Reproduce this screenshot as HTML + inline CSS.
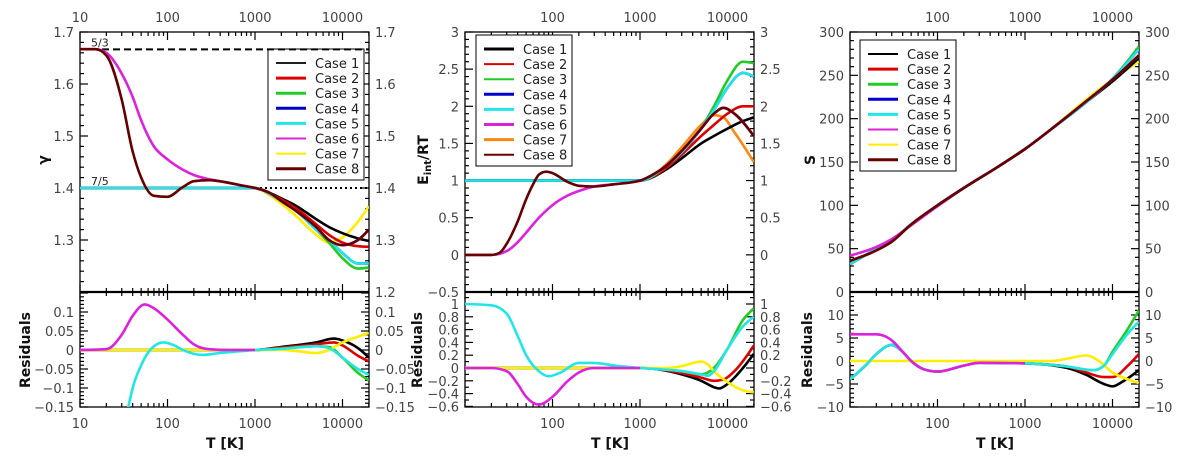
<!DOCTYPE html>
<html><head><meta charset="utf-8">
<style>
html,body{margin:0;padding:0;background:#fff;}
svg{display:block;font-family:"DejaVu Sans","Liberation Sans",sans-serif;}
.tl{font-size:13px;fill:#444;}
.at{font-size:14px;font-weight:bold;fill:#111;}
.lg{font-size:13px;fill:#222;}
</style></head>
<body>
<svg id="fig" width="1200" height="470" viewBox="0 0 1200 470"></svg>
<script>
// ---------- data: [T, value] pairs ----------
const caseNames = ["Case 1","Case 2","Case 3","Case 4","Case 5","Case 6","Case 7","Case 8"];
const colors1 = ["#000000","#dd0000","#22cc22","#0000cc","#22e6e6","#dd22dd","#ffee00","#660000"];
const colors2 = ["#000000","#dd0000","#22cc22","#0000cc","#22e6e6","#dd22dd","#ff8811","#660000"];
const xTickLabels = [10,100,1000,10000];
// Panel 1: gamma
const g_c1 = [[10,1.4],[1000,1.4],[1500,1.39],[2000,1.38],[3000,1.365],[5000,1.34],[7000,1.325],[10000,1.313],[15000,1.303],[20000,1.298]];
const g_c2 = [[10,1.4],[1000,1.4],[1500,1.389],[2000,1.378],[3000,1.36],[5000,1.33],[7000,1.31],[10000,1.295],[15000,1.288],[20000,1.287]];
const g_c3 = [[10,1.4],[1000,1.4],[1500,1.388],[2000,1.375],[3000,1.355],[5000,1.32],[7000,1.295],[10000,1.265],[15000,1.245],[20000,1.247]];
const g_c4 = [[10,1.4],[1000,1.4],[1500,1.388],[2000,1.375],[3000,1.355],[5000,1.32],[7000,1.3],[10000,1.275],[15000,1.255],[20000,1.255]];
const g_c5 = [[10,1.4],[1000,1.4],[1500,1.388],[2000,1.375],[3000,1.355],[5000,1.32],[7000,1.3],[10000,1.275],[15000,1.255],[20000,1.255]];
const g_c6 = [[10,1.667],[15,1.667],[20,1.66],[30,1.62],[40,1.575],[50,1.53],[70,1.48],[100,1.455],[150,1.435],[200,1.425],[300,1.417],[500,1.41],[700,1.405],[1000,1.4],[1500,1.39],[2000,1.375],[3000,1.355],[5000,1.325],[7000,1.3],[10000,1.29],[15000,1.3],[20000,1.32]];
const g_c7 = [[10,1.4],[1000,1.4],[1500,1.385],[2000,1.37],[3000,1.345],[5000,1.31],[7000,1.295],[10000,1.305],[15000,1.335],[20000,1.365]];
const g_c8 = [[10,1.667],[15,1.667],[20,1.655],[30,1.57],[40,1.47],[50,1.42],[70,1.385],[100,1.383],[150,1.402],[200,1.413],[300,1.415],[500,1.41],[700,1.405],[1000,1.4],[1500,1.39],[2000,1.375],[3000,1.355],[5000,1.325],[7000,1.3],[10000,1.29],[15000,1.3],[20000,1.32]];
const gr_c1 = [[10,0],[1000,0],[2000,0.008],[5000,0.02],[8000,0.03],[10000,0.025],[15000,0.005],[20000,-0.02]];
const gr_c2 = [[10,0],[1000,0],[2000,0.006],[5000,0.015],[8000,0.02],[10000,0.012],[15000,-0.015],[20000,-0.03]];
const gr_c3 = [[10,0],[1000,0],[2000,0.004],[5000,0.01],[7000,0.008],[10000,-0.02],[15000,-0.06],[20000,-0.08]];
const gr_c5 = [[30,-0.25],[35,-0.16],[40,-0.1],[50,-0.04],[70,0.01],[90,0.02],[120,0.012],[150,0.0],[250,-0.013],[400,-0.008],[700,-0.003],[1000,0],[2000,0.003],[5000,0.01],[7000,0.005],[10000,-0.02],[15000,-0.05],[20000,-0.065]];
const gr_c6 = [[10,0],[20,0.002],[30,0.04],[40,0.09],[55,0.12],[70,0.11],[100,0.08],[150,0.04],[200,0.015],[300,0.002],[500,0],[1000,0]];
const gr_c7 = [[10,0],[2000,0],[3000,-0.003],[5000,-0.008],[7000,0],[10000,0.02],[15000,0.035],[20000,0.045]];
// Panel 2: Eint/RT
const e_c1 = [[10,1],[1000,1],[2000,1.15],[3000,1.3],[5000,1.5],[7000,1.6],[10000,1.7],[15000,1.8],[20000,1.85]];
const e_c2 = [[10,1],[1000,1],[2000,1.17],[3000,1.35],[5000,1.6],[7000,1.75],[10000,1.9],[15000,2.0],[20000,2.0]];
const e_c3 = [[10,1],[1000,1],[2000,1.2],[3000,1.4],[5000,1.7],[7000,2.0],[10000,2.35],[15000,2.6],[20000,2.58]];
const e_c4 = [[10,1],[1000,1],[2000,1.2],[3000,1.38],[5000,1.7],[7000,1.95],[10000,2.25],[15000,2.45],[20000,2.4]];
const e_c5 = [[10,1],[1000,1],[2000,1.2],[3000,1.38],[5000,1.7],[7000,1.95],[10000,2.25],[15000,2.45],[20000,2.4]];
const e_c6 = [[10,0],[20,0],[30,0.05],[40,0.17],[50,0.3],[70,0.5],[100,0.67],[150,0.8],[200,0.86],[300,0.92],[500,0.95],[1000,1.0],[1500,1.1],[2000,1.2],[3000,1.4],[5000,1.7],[7000,1.9],[9000,1.98],[12000,1.9],[20000,1.6]];
const e_c7 = [[10,1],[1000,1],[2000,1.22],[3000,1.45],[5000,1.75],[7000,1.88],[9000,1.85],[12000,1.65],[20000,1.25]];
const e_c8 = [[10,0],[20,0],[25,0.03],[30,0.15],[40,0.45],[50,0.75],[60,0.95],[70,1.08],[85,1.12],[100,1.1],[150,0.98],[200,0.93],[300,0.92],[500,0.95],[1000,1.0],[1500,1.1],[2000,1.2],[3000,1.4],[5000,1.7],[7000,1.9],[9000,1.98],[12000,1.9],[20000,1.6]];
const er_c1 = [[10,0],[1000,0],[3000,-0.1],[5000,-0.2],[7000,-0.3],[8000,-0.32],[10000,-0.25],[15000,0],[20000,0.22]];
const er_c2 = [[10,0],[1000,0],[3000,-0.08],[5000,-0.15],[7000,-0.2],[9000,-0.18],[12000,-0.05],[20000,0.35]];
const er_c3 = [[10,0],[1000,0],[3000,-0.05],[5000,-0.1],[7000,0],[10000,0.3],[15000,0.75],[20000,0.93]];
const er_c5 = [[10,1],[20,0.98],[30,0.85],[40,0.5],[50,0.2],[70,-0.05],[90,-0.13],[120,-0.08],[200,0.08],[300,0.08],[500,0.04],[1000,0],[3000,-0.05],[5000,-0.1],[6000,-0.12],[7000,-0.05],[10000,0.3],[15000,0.65],[20000,0.8]];
const er_c6 = [[10,0],[20,0],[30,-0.05],[40,-0.25],[50,-0.45],[70,-0.57],[100,-0.45],[150,-0.2],[200,-0.07],[300,0],[1000,0]];
const er_c7 = [[10,0],[2000,0],[3000,0.03],[5000,0.1],[6000,0.05],[7000,-0.05],[10000,-0.22],[15000,-0.35],[20000,-0.38]];
// Panel 3: S
const s_c1 = [[10,36],[20,48],[30,58],[50,78],[100,100],[200,120],[500,145],[1000,165],[2000,188],[5000,219],[10000,243],[20000,270]];
const s_c2 = [[10,36],[20,48],[30,58],[50,78],[100,100],[200,120],[500,145],[1000,165],[2000,188],[5000,220],[10000,245],[20000,273]];
const s_c3 = [[10,32],[20,50],[30,60],[50,78],[100,100],[200,120],[500,145],[1000,165],[2000,188],[5000,219],[10000,246],[20000,283]];
const s_c4 = [[10,32],[20,50],[30,60],[50,78],[100,100],[200,120],[500,145],[1000,165],[2000,188],[5000,219],[10000,246],[20000,280]];
const s_c5 = [[10,32],[20,50],[30,60],[50,78],[100,100],[200,120],[500,145],[1000,165],[2000,188],[5000,219],[10000,246],[20000,280]];
const s_c6 = [[10,42],[20,52],[30,61],[50,77],[100,99],[200,120],[500,145],[1000,165],[2000,188],[5000,220],[10000,245],[20000,273]];
const s_c7 = [[10,36],[20,48],[30,58],[50,78],[100,100],[200,120],[500,145],[1000,165],[2000,188],[5000,222],[10000,245],[20000,266]];
const s_c8 = [[10,36],[20,48],[30,58],[50,78],[100,100],[200,120],[500,145],[1000,165],[2000,188],[5000,220],[10000,245],[20000,273]];
const sr_c1 = [[10,-4],[15,-1],[20,1.5],[30,3.5],[40,2],[50,0],[70,-1.8],[100,-2.3],[200,-1],[300,-0.4],[1000,-0.5],[3000,-1.5],[5000,-3],[8000,-5],[10000,-5.5],[13000,-4.5],[20000,-2]];
const sr_c2 = [[1000,-0.5],[3000,-1.2],[5000,-2.5],[8000,-3.5],[10000,-3.5],[15000,-1],[20000,1.5]];
const sr_c3 = [[1000,-0.5],[3000,-1.2],[6000,-2],[8000,-1],[10000,2],[15000,7],[20000,11]];
const sr_c5 = [[10,-4],[15,-1],[20,1.5],[30,3.5],[40,2],[50,0],[70,-1.8],[100,-2.3],[200,-1],[300,-0.4],[1000,-0.5],[3000,-1.2],[6000,-2],[8000,-1],[10000,1.5],[15000,6],[20000,8.5]];
const sr_c6 = [[10,5.8],[20,5.8],[30,4.5],[40,2],[50,0],[70,-1.8],[100,-2.3],[200,-1],[300,-0.4],[1000,-0.5]];
const sr_c7 = [[10,0],[2000,0],[3000,0.5],[5000,1.2],[7000,0],[10000,-2.5],[15000,-4],[20000,-4.8]];

// ---------- drawing ----------
const NS="http://www.w3.org/2000/svg";
const svg=document.getElementById('fig');
function mk(tag,attrs,parent){const e=document.createElementNS(NS,tag);for(const k in attrs)e.setAttribute(k,attrs[k]);(parent||svg).appendChild(e);return e;}
const TOP=32, MID=292, BOT=407;
const drawOrder=[6,0,1,2,3,4,5,7];
let clipId=0;
function xScale(L){return T=>L+(Math.log10(T)-1)*87.5;}
function linScale(v0,y0,v1,y1){return v=>y0+(v-v0)*(y1-y0)/(v1-v0);}
function smoothPath(pts){
  const n=pts.length;if(n<2)return "";
  const h=[],s=[];
  for(let i=0;i<n-1;i++){h[i]=pts[i+1][0]-pts[i][0];s[i]=(pts[i+1][1]-pts[i][1])/h[i];}
  const m=[];
  for(let i=1;i<n-1;i++){
    const s0=s[i-1],s1=s[i];
    if(s0*s1<=0){m[i]=0;continue;}
    const p=(s0*h[i]+s1*h[i-1])/(h[i-1]+h[i]);
    m[i]=(Math.sign(s0)+Math.sign(s1))*Math.min(Math.abs(s0),Math.abs(s1),0.5*Math.abs(p));
  }
  m[0]=n>2?(3*s[0]-m[1])/2:s[0];
  m[n-1]=n>2?(3*s[n-2]-m[n-2])/2:s[0];
  if(s[0]*m[0]<0)m[0]=0; if(s[n-2]*m[n-1]<0)m[n-1]=0;
  let d="M"+pts[0][0].toFixed(1)+","+pts[0][1].toFixed(1);
  for(let i=0;i<n-1;i++){
    const dx=h[i]/3;
    d+="C"+(pts[i][0]+dx).toFixed(1)+","+(pts[i][1]+m[i]*dx).toFixed(1)+" "+(pts[i+1][0]-dx).toFixed(1)+","+(pts[i+1][1]-m[i+1]*dx).toFixed(1)+" "+pts[i+1][0].toFixed(1)+","+pts[i+1][1].toFixed(1);
  }
  return d;
}
function drawSeries(g,data,xs,ys,color,w,name){
  const pts=data.map(p=>[xs(p[0]),ys(p[1])]);
  const p=mk('path',{d:smoothPath(pts),fill:'none',stroke:color,'stroke-width':w,'stroke-linejoin':'round'},g);
  
  
}
function clipGroup(L,R,y0,y1,name){
  const id='c'+(clipId++);
  const cp=mk('clipPath',{id:id});mk('rect',{x:L,y:y0,width:R-L,height:y1-y0},cp);
  const g=mk('g',{'clip-path':'url(#'+id+')'});
  
  
  return g;
}
function logTicks(g,L,R,xs,y0,y1){
  for(let d=1;d<=4;d++)for(let m=1;m<=9;m++){
    const T=m*Math.pow(10,d);const x=xs(T);if(x<L-0.5||x>R+0.5)continue;
    const len=m===1?8:4;
    mk('line',{x1:x,y1:y0,x2:x,y2:y0+len,stroke:'#000','stroke-width':1.2},g);
    mk('line',{x1:x,y1:y1,x2:x,y2:y1-len,stroke:'#000','stroke-width':1.2},g);
  }
}
function yTicks(g,L,R,ys,vmin,vmax,step,nminor){
  const ms=step/nminor;
  const n0=Math.ceil(vmin/ms-1e-6),n1=Math.floor(vmax/ms+1e-6);
  for(let i=n0;i<=n1;i++){
    const v=i*ms,y=ys(v);const major=Math.abs(i%nminor)===0;const len=major?8:4;
    mk('line',{x1:L,y1:y,x2:L+len,y2:y,stroke:'#000','stroke-width':1.2},g);
    mk('line',{x1:R,y1:y,x2:R-len,y2:y,stroke:'#000','stroke-width':1.2},g);
  }
}
function yLabels(g,x,anchor,ys,vals,name){
  vals.forEach(v=>{const t=mk('text',{x:x,y:ys(v)+5,'text-anchor':anchor,class:'tl'},g);t.textContent=String(v).replace('-','\u2212');
    
    });
}
function legend(g,x,y,w,h,colors,widths){
  mk('rect',{x:x,y:y,width:w,height:h,fill:'#fff',stroke:'#000','stroke-width':1},g);
  caseNames.forEach((n,i)=>{
    const yy=y+14+i*15.1;
    const ln=mk('line',{x1:x+8,y1:yy,x2:x+38,y2:yy,stroke:colors[i],'stroke-width':widths[i]},g);
    
    
    const t=mk('text',{x:x+47,y:yy+5,class:'lg'},g);t.textContent=n;
    
    
  });
}
function panel(o){
  const g=mk('g',{});
  const L=o.L,R=L+289,xs=xScale(L);
  const ysU=linScale(o.uMin,MID,o.uMax,TOP), ysR=o.rScale;
  const gu=clipGroup(L,R,TOP,MID,o.name+'-upper-series');
  if(o.extra)o.extra(gu,xs,ysU,L,R);
  drawOrder.forEach(i=>drawSeries(gu,o.upper[i],xs,ysU,o.colors[i],2.6,o.name+'-case-'+(i+1)+'-line'));
  const gr=clipGroup(L,R,MID,BOT,o.name+'-residual-series');
  o.resid.forEach(s=>drawSeries(gr,s[0],xs,ysR,s[1],2.6,o.name+'-residual-'+s[2]));
  mk('rect',{x:L,y:TOP,width:R-L,height:BOT-TOP,fill:'none',stroke:'#000','stroke-width':1.3},g);
  mk('line',{x1:L,y1:MID,x2:R,y2:MID,stroke:'#000','stroke-width':2.2},g);
  logTicks(g,L,R,xs,TOP,MID);logTicks(g,L,R,xs,MID,BOT);
  yTicks(g,L,R,ysU,o.uMin,o.uMax,o.uStep,o.uMinor);
  yTicks(g,L,R,ysR,o.rMin,o.rMax,o.rStep,o.rMinor);
  yLabels(g,L-6,'end',ysU,o.uLabelsL,o.name+'-y-tick');
  yLabels(g,R+6,'start',ysU,o.uLabelsR,o.name+'-y2-tick');
  yLabels(g,L-6,'end',ysR,o.rLabels,o.name+'-resid-tick');
  yLabels(g,R+6,'start',ysR,o.rLabels,o.name+'-resid2-tick');
  xTickLabels.forEach(T=>{
    if(T===10&&!o.show10)return;const x=xs(T);
    const a=mk('text',{x:x,y:22,'text-anchor':'middle',class:'tl'},g);a.textContent=T;
    
    const b=mk('text',{x:x,y:428,'text-anchor':'middle',class:'tl'},g);b.textContent=T;
    
  });
  const xt=mk('text',{x:L+145,y:448,'text-anchor':'middle',class:'at'},g);xt.textContent='T [K]';
  
  const yt=mk('text',{x:0,y:0,'text-anchor':'middle',class:'at',transform:'translate('+o.yTitleX+',160) rotate(-90)'},g);
  yt.innerHTML=o.yTitle;
  const rt=mk('text',{x:0,y:0,'text-anchor':'middle',class:'at',transform:'translate('+o.rTitleX+',350) rotate(-90)'},g);
  rt.textContent='Residuals';
  legend(g,o.lgX,o.lgY,96,131,o.colors,o.lgW);
}
panel({name:'gamma-panel',L:80,uMin:1.2,uMax:1.7,uStep:0.1,uMinor:5,
  rScale:linScale(0,350,-0.15,407),rMin:-0.15,rMax:0.15,rStep:0.05,rMinor:5,
  uLabelsL:[1.3,1.4,1.5,1.6,1.7],uLabelsR:[1.2,1.3,1.4,1.5,1.6,1.7],rLabels:[0.1,0.05,0,-0.05,-0.1,-0.15],
  upper:[g_c1,g_c2,g_c3,g_c4,g_c5,g_c6,g_c7,g_c8],colors:colors1,
  resid:[[gr_c1,'#000','case-1'],[gr_c2,'#dd0000','case-2'],[gr_c3,'#22cc22','case-3'],[gr_c7,'#ffee00','case-7'],[gr_c5,'#22e6e6','case-5'],[gr_c6,'#dd22dd','case-6']],
  show10:true,yTitle:'\u03b3',yTitleX:48,rTitleX:30,lgX:268,lgY:49,lgW:[1.8,3,3,3,3,2,2,3],
  extra:(g,xs,ys,L,R)=>{
    const a=mk('line',{x1:L,y1:ys(5/3),x2:R,y2:ys(5/3),stroke:'#000','stroke-width':2,'stroke-dasharray':'7,4'},g);
    
    const b=mk('line',{x1:L,y1:ys(1.4),x2:R,y2:ys(1.4),stroke:'#000','stroke-width':2,'stroke-dasharray':'2,3'},g);
    
    const t1=mk('text',{x:L+11,y:ys(5/3)-3,style:'font-size:11px;fill:#222'},g);t1.textContent='5/3';
    
    const t2=mk('text',{x:L+11,y:ys(1.4)-3,style:'font-size:11px;fill:#222'},g);t2.textContent='7/5';
    
  }});
panel({name:'eint-panel',L:465,uMin:-0.5,uMax:3,uStep:0.5,uMinor:5,
  rScale:linScale(0,368,1,304),rMin:-0.6,rMax:1.15,rStep:0.2,rMinor:2,
  uLabelsL:[-0.5,0,0.5,1,1.5,2,2.5,3],uLabelsR:[0,0.5,1,1.5,2,2.5,3],rLabels:[1,0.8,0.6,0.4,0.2,0,-0.2,-0.4,-0.6],
  upper:[e_c1,e_c2,e_c3,e_c4,e_c5,e_c6,e_c7,e_c8],colors:colors2,
  resid:[[er_c1,'#000','case-1'],[er_c2,'#dd0000','case-2'],[er_c3,'#22cc22','case-3'],[er_c7,'#ffee00','case-7'],[er_c5,'#22e6e6','case-5'],[er_c6,'#dd22dd','case-6']],
  show10:false,yTitle:'E<tspan font-size="10" dy="3">int</tspan><tspan dy="-3">/RT</tspan>',yTitleX:428,rTitleX:422,lgX:476,lgY:35,lgW:[3,2,2,3,3,3,3,2]});
panel({name:'entropy-panel',L:850,uMin:0,uMax:300,uStep:50,uMinor:5,
  rScale:linScale(0,361,10,315),rMin:-10,rMax:14,rStep:5,rMinor:5,
  uLabelsL:[0,50,100,150,200,250,300],uLabelsR:[0,50,100,150,200,250,300],rLabels:[10,5,0,-5,-10],
  upper:[s_c1,s_c2,s_c3,s_c4,s_c5,s_c6,s_c7,s_c8],colors:colors1,
  resid:[[sr_c1,'#000','case-1'],[sr_c2,'#dd0000','case-2'],[sr_c3,'#22cc22','case-3'],[sr_c7,'#ffee00','case-7'],[sr_c5,'#22e6e6','case-5'],[sr_c6,'#dd22dd','case-6']],
  show10:false,yTitle:'S',yTitleX:815,rTitleX:812,lgX:860,lgY:40,lgW:[2,3,3,3,3,2,2,3]});
</script>
</body></html>
